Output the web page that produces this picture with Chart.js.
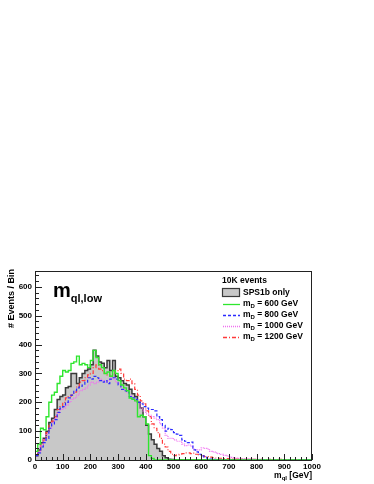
<!DOCTYPE html>
<html lang="en">
  <head>
    <meta charset="UTF-8" />
    <title>m_ql,low</title>
    <script src="https://cdn.jsdelivr.net/npm/chart.js@4.4.0/dist/chart.umd.min.js"></script>
    <style>
      html, body { margin: 0; padding: 0; background: #fff; }
      canvas { display: block; }
    </style>
  </head>
  <body>
    <canvas id="myChart" width="374" height="484"></canvas>
    <script>
      // histogram, 10 GeV bins from 0 to 1000 GeV
      const binWidth = 10;
      const xTicks = [0, 100, 200, 300, 400, 500, 600, 700, 800, 900, 1000];
      const yTicks = [0, 100, 200, 300, 400, 500, 600];

      const sps1b = [
        15, 35, 60, 75, 100, 130, 145, 175, 210, 220,
        225, 250, 255, 300, 300, 265, 285, 300, 310, 315,
        330, 380, 360, 340, 335, 320, 345, 310, 345, 290,
        285, 275, 265, 260, 245, 230, 220, 200, 180, 150,
        120, 90, 70, 55, 40, 30, 15, 8, 3, 2,
        1, 0, 1, 0, 0, 1, 0, 0, 0, 0,
        0, 0, 0, 0, 0, 0, 0, 0, 0, 0,
        0, 0, 0, 0, 0, 0, 0, 0, 0, 0,
        0, 0, 0, 0, 0, 0, 0, 0, 0, 0,
        0, 0, 0, 0, 0, 0, 0, 0, 0, 0
      ];
      const mD600 = [
        30, 55, 110, 105, 150, 200, 225, 235, 265, 290,
        310, 305, 310, 335, 340, 360, 330, 335, 330, 320,
        345, 380, 355, 330, 320, 300, 305, 290, 310, 300,
        275, 260, 250, 240, 215, 210, 205, 150, 155, 150,
        125, 15, 5, 0, 0, 0, 0, 0, 0, 0,
        0, 0, 0, 0, 0, 0, 0, 0, 0, 0,
        0, 0, 0, 0, 0, 0, 0, 0, 0, 0,
        0, 0, 0, 0, 0, 0, 0, 0, 0, 0,
        0, 0, 0, 0, 0, 0, 0, 0, 0, 0,
        0, 0, 0, 0, 0, 0, 0, 0, 0, 0
      ];
      const mD800 = [
        15, 25, 45, 60, 75, 110, 125, 140, 165, 180,
        185, 200, 215, 225, 240, 250, 255, 260, 270, 285,
        280, 290, 285, 275, 270, 275, 265, 280, 285, 280,
        260, 245, 240, 235, 220, 215, 210, 200, 195, 185,
        180, 175, 175, 170, 150, 140, 120, 100, 110, 105,
        95, 90, 85, 70, 65, 60, 62, 35, 28, 20,
        14, 10, 6, 3, 2, 1, 1, 0, 0, 0,
        0, 1, 0, 0, 0, 0, 0, 0, 0, 0,
        0, 0, 0, 0, 0, 0, 0, 0, 0, 0,
        0, 0, 0, 0, 0, 0, 0, 0, 0, 0
      ];
      const mD1000 = [
        15, 30, 50, 70, 90, 110, 130, 145, 160, 175,
        180, 190, 200, 210, 215, 225, 240, 245, 250, 260,
        270, 265, 270, 280, 275, 270, 275, 285, 280, 270,
        265, 255, 245, 235, 225, 210, 205, 195, 180, 170,
        160, 155, 150, 145, 140, 125, 110, 85, 75, 75,
        70, 65, 65, 55, 50, 52, 48, 38, 35, 35,
        42, 40, 38, 30, 28, 25, 22, 20, 16, 14,
        10, 8, 7, 6, 5, 4, 4, 3, 3, 2,
        2, 2, 1, 1, 2, 1, 1, 0, 1, 1,
        0, 1, 0, 0, 1, 0, 0, 0, 0, 0
      ];
      const mD1200 = [
        15, 30, 55, 70, 95, 120, 135, 150, 175, 185,
        200, 215, 220, 225, 235, 255, 270, 275, 285, 295,
        300, 320, 330, 315, 310, 300, 295, 290, 300, 310,
        315, 300, 280, 275, 280, 265, 245, 225, 205, 195,
        170, 150, 125, 110, 95, 75, 55, 45, 30, 20,
        15, 18, 20, 22, 25, 25, 22, 24, 20, 18,
        15, 12, 12, 10, 8, 7, 6, 6, 5, 5,
        4, 4, 3, 3, 3, 2, 2, 3, 2, 2,
        1, 2, 1, 1, 2, 1, 1, 1, 2, 1,
        1, 1, 0, 1, 1, 0, 1, 0, 1, 0
      ];

      // bin contents -> outline points (left edges + closing edge)
      function f_hist(vals) {
        var pts = [{ x: 0, y: 0 }];
        for (var i = 0; i < vals.length; i++) {
          pts.push({ x: i * binWidth, y: vals[i] });
        }
        var end = vals.length * binWidth;
        pts.push({ x: end, y: vals[vals.length - 1] });
        pts.push({ x: end, y: 0 });
        return pts;
      }

      const FONT = "'Liberation Sans', Arial, sans-serif";

      // ROOT-like frame, ticks, titles and legend
      const rootDeco = {
        id: "rootDeco",
        afterDraw(chart) {
          const c = chart.ctx;
          const a = chart.chartArea;
          const xs = chart.scales.x;
          const ys = chart.scales.y;
          c.save();

          // frame
          c.strokeStyle = "#222";
          c.lineWidth = 1;
          c.strokeRect(a.left + 0.5, a.top + 0.5, a.right - a.left - 1, a.bottom - a.top);

          // ticks (inside)
          c.beginPath();
          for (var v = 0; v <= ys.max; v += 20) {
            var py = Math.round(ys.getPixelForValue(v)) + 0.5;
            var len = v % 100 === 0 ? 7 : 4;
            c.moveTo(a.left, py);
            c.lineTo(a.left + len, py);
          }
          for (var g = 0; g <= xs.max; g += 20) {
            var px = Math.round(xs.getPixelForValue(g)) + 0.5;
            var l2 = g % 100 === 0 ? 6 : 3;
            c.moveTo(px, a.bottom);
            c.lineTo(px, a.bottom - l2);
          }
          c.stroke();

          c.fillStyle = "#000";

          // y title
          c.save();
          c.translate(12, a.top - 2);
          c.rotate(-Math.PI / 2);
          c.font = "bold 9px " + FONT;
          c.textAlign = "right";
          c.textBaseline = "middle";
          c.fillText("# Events / Bin", 0, 0);
          c.restore();

          // x title  m_ql [GeV]
          c.textBaseline = "alphabetic";
          c.textAlign = "left";
          c.font = "bold 8.5px " + FONT;
          var rest = " [GeV]";
          var wRest = c.measureText(rest).width;
          c.font = "bold 6px " + FONT;
          var wSub = c.measureText("ql").width;
          c.font = "bold 8.5px " + FONT;
          var wM = c.measureText("m").width;
          var x0 = a.right - wRest - wSub - wM;
          var by = 478;
          c.fillText("m", x0, by);
          c.font = "bold 6px " + FONT;
          c.fillText("ql", x0 + wM, by + 2);
          c.font = "bold 8.5px " + FONT;
          c.fillText(rest, x0 + wM + wSub, by);

          // main label m_ql,low
          c.font = "bold 20px " + FONT;
          c.fillText("m", 53, 297);
          var wBig = c.measureText("m").width;
          c.font = "bold 11px " + FONT;
          c.fillText("ql,low", 53 + wBig, 302);

          // legend
          var lx = 222;
          var tx = 243;
          c.textBaseline = "middle";
          c.font = "bold 8.5px " + FONT;
          c.fillText("10K events", lx, 281);

          var ds = chart.data.datasets;
          c.fillStyle = ds[0].backgroundColor;
          c.fillRect(lx, 288, 18, 9);
          c.strokeStyle = ds[0].borderColor;
          c.lineWidth = 1.2;
          c.strokeRect(lx + 0.5, 288.5, 17, 8);
          c.fillStyle = "#000";
          c.fillText(ds[0].label, tx, 292.5);

          var rows = [304, 315, 326, 337];
          for (var k = 1; k < ds.length; k++) {
            var d = ds[k];
            var ry = rows[k - 1];
            c.save();
            c.strokeStyle = d.borderColor;
            c.lineWidth = 1.3;
            c.setLineDash(d.borderDash || []);
            c.beginPath();
            c.moveTo(lx + 1, ry + 0.5);
            c.lineTo(lx + 18, ry + 0.5);
            c.stroke();
            c.restore();

            c.fillStyle = "#000";
            c.font = "bold 8.5px " + FONT;
            c.fillText("m", tx, ry);
            var wm = c.measureText("m").width;
            c.font = "bold 6px " + FONT;
            c.fillText("D", tx + wm, ry + 2.5);
            var wd = c.measureText("D").width;
            c.font = "bold 8.5px " + FONT;
            c.fillText(" = " + d.label, tx + wm + wd, ry);
          }

          c.restore();
        },
      };

      const ctx = document.getElementById("myChart").getContext("2d");
      const myChart = new Chart(ctx, {
        type: "line",
        data: {
          datasets: [
            {
              label: "SPS1b only",
              data: f_hist(sps1b),
              stepped: true,
              fill: "origin",
              backgroundColor: "#c8c8c8",
              borderColor: "#3a3a3a",
              borderWidth: 1.5,
              pointRadius: 0,
              order: 5,
            },
            {
              label: "600 GeV",
              data: f_hist(mD600),
              stepped: true,
              fill: false,
              borderColor: "#2ee62e",
              borderWidth: 1.4,
              pointRadius: 0,
              order: 1,
            },
            {
              label: "800 GeV",
              data: f_hist(mD800),
              stepped: true,
              fill: false,
              borderColor: "#2b2bff",
              borderWidth: 1.2,
              borderDash: [3, 2],
              pointRadius: 0,
              order: 2,
            },
            {
              label: "1000 GeV",
              data: f_hist(mD1000),
              stepped: true,
              fill: false,
              borderColor: "#f070f0",
              borderWidth: 1.2,
              borderDash: [1, 1],
              pointRadius: 0,
              order: 3,
            },
            {
              label: "1200 GeV",
              data: f_hist(mD1200),
              stepped: true,
              fill: false,
              borderColor: "#ff3a3a",
              borderWidth: 1.2,
              borderDash: [4, 2, 1, 2],
              pointRadius: 0,
              order: 4,
            },
          ],
        },
        options: {
          responsive: false,
          animation: false,
          events: [],
          layout: { padding: { left: 0, top: 271, right: 62, bottom: 0 } },
          plugins: {
            legend: { display: false },
            tooltip: { enabled: false },
          },
          scales: {
            x: {
              type: "linear",
              min: 0,
              max: 1000,
              grid: { display: false, drawTicks: false },
              border: { display: false },
              afterBuildTicks: (s) => { s.ticks = xTicks.map((v) => ({ value: v })); },
              afterFit: (s) => { s.height = 24; },
              ticks: {
                padding: 2,
                maxRotation: 0,
                autoSkip: false,
                color: "#000",
                font: { family: FONT, size: 8, weight: "bold" },
                callback: (v) => String(v),
              },
            },
            y: {
              min: 0,
              max: 655,
              grid: { display: false, drawTicks: false },
              border: { display: false },
              afterBuildTicks: (s) => { s.ticks = yTicks.map((v) => ({ value: v })); },
              afterFit: (s) => { s.width = 35; },
              ticks: {
                padding: 3,
                autoSkip: false,
                color: "#000",
                font: { family: FONT, size: 8, weight: "bold" },
                callback: (v) => String(v),
              },
            },
          },
        },
        plugins: [rootDeco],
      });
    </script>
  </body>
</html>
